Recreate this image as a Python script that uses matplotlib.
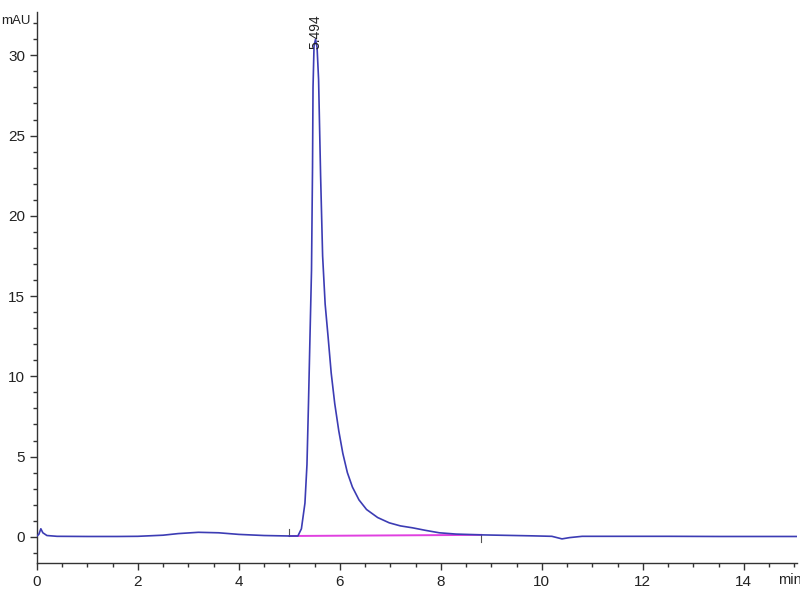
import matplotlib
matplotlib.use('Agg')
import matplotlib.pyplot as plt
from matplotlib.ticker import MultipleLocator

plt.rcParams['font.family'] = ['Liberation Sans', 'DejaVu Sans']

# chromatogram trace (min, mAU)
time_min = [0.0, 0.04, 0.08, 0.12, 0.2, 0.4, 1.0, 1.6, 2.0, 2.5, 2.8, 3.2, 3.6,
            4.0, 4.5, 5.0, 5.17, 5.24, 5.31, 5.35, 5.38, 5.41, 5.44, 5.46, 5.47,
            5.49, 5.52, 5.55, 5.58, 5.62, 5.66, 5.71, 5.77, 5.83, 5.90, 5.98,
            6.06, 6.15, 6.25, 6.38, 6.53, 6.75, 6.98, 7.2, 7.44, 7.7, 7.97, 8.3,
            8.8, 9.3, 9.8, 10.2, 10.4, 10.55, 10.8, 11.5, 12.5, 13.5, 14.5, 15.05]
signal_mau = [0.05, 0.15, 0.5, 0.25, 0.08, 0.03, 0.02, 0.02, 0.03, 0.1, 0.2, 0.28,
              0.25, 0.15, 0.08, 0.05, 0.05, 0.5, 2.1, 4.5, 8.3, 12.5, 16.6, 23.0,
              28.0, 30.6, 31.0, 30.5, 28.5, 22.5, 17.5, 14.5, 12.4, 10.2, 8.3, 6.6,
              5.2, 4.0, 3.1, 2.3, 1.7, 1.2, 0.87, 0.68, 0.56, 0.4, 0.25, 0.17,
              0.12, 0.09, 0.06, 0.03, -0.13, -0.05, 0.03, 0.03, 0.03, 0.02, 0.02, 0.02]

# integration baseline
base_t = [5.0, 8.8]
base_y = [0.05, 0.12]

peak_t = 5.52
peak_y = 31.0
peak_label = '5.494'

fig = plt.figure(figsize=(8, 6), dpi=100)
ax = fig.add_axes([0.046, 0.062, 0.95, 0.918])

ax.plot(time_min, signal_mau, color='#3c3cb4', lw=1.2, zorder=3)
ax.plot(base_t, base_y, color='#e040e0', lw=1.4, zorder=2)
# start / end markers of the integration
ax.plot([base_t[0], base_t[0]], [base_y[0], base_y[0] + 0.45], color='#555555', lw=0.8)
ax.plot([base_t[1], base_t[1]], [base_y[1], base_y[1] - 0.45], color='#555555', lw=0.8)

ax.text(peak_t, peak_y - 0.6, peak_label, rotation=90, ha='center', va='bottom',
        fontsize=10, color='#222222')

ax.set_xlim(0, 15.05)
ax.set_ylim(-1.62, 32.7)
ax.xaxis.set_major_locator(MultipleLocator(2))
ax.xaxis.set_minor_locator(MultipleLocator(0.5))
ax.yaxis.set_major_locator(MultipleLocator(5))
ax.yaxis.set_minor_locator(MultipleLocator(1))

for s in ['top', 'right']:
    ax.spines[s].set_visible(False)
for s in ['left', 'bottom']:
    ax.spines[s].set_color('#333333')
    ax.spines[s].set_linewidth(1.0)

ax.tick_params(which='major', length=5, width=1, color='#333333',
               labelsize=11, labelcolor='#222222')
ax.tick_params(which='minor', length=3, width=1, color='#333333')

fig.text(0.002, 0.965, 'mAU', fontsize=9.5, color='#222222', ha='left', va='center')
fig.text(0.972, 0.033, 'min', fontsize=10.5, color='#222222', ha='left', va='center')

fig.savefig('out.png', dpi=100)
